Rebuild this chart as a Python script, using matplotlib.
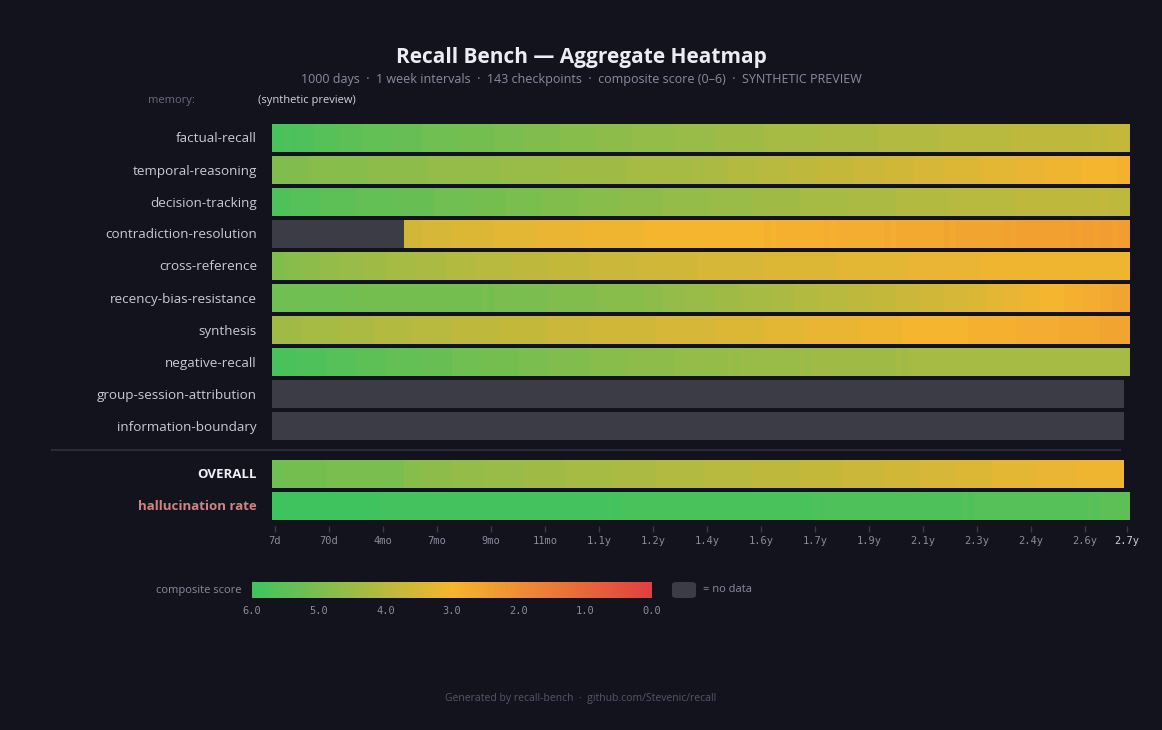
import numpy as np
import matplotlib
matplotlib.use("Agg")
import matplotlib.pyplot as plt
from matplotlib.colors import LinearSegmentedColormap, Normalize
from matplotlib.cm import ScalarMappable
from matplotlib.patches import FancyBboxPatch

plt.rcParams["font.family"] = ["Open Sans", "DejaVu Sans"]

BG = "#13131e"
NODATA = "#3c3c47"
nan = np.nan

CATEGORIES = [
    "factual-recall", "temporal-reasoning", "decision-tracking",
    "contradiction-resolution", "cross-reference", "recency-bias-resistance",
    "synthesis", "negative-recall", "group-session-attribution",
    "information-boundary",
]

SCORES = {
    "factual-recall": [
        5.8, 5.8, 5.7, 5.8, 5.7, 5.7, 5.7, 5.6, 5.6, 5.6, 5.6, 5.5,
        5.5, 5.5, 5.5, 5.4, 5.4, 5.4, 5.4, 5.4, 5.3, 5.3, 5.3, 5.3,
        5.3, 5.2, 5.2, 5.2, 5.2, 5.2, 5.2, 5.1, 5.1, 5.1, 5.1, 5.1,
        5.1, 5.0, 5.0, 5.0, 5.0, 5.0, 4.9, 4.9, 4.9, 4.9, 4.9, 4.9,
        4.8, 4.8, 4.8, 4.8, 4.8, 4.8, 4.7, 4.7, 4.7, 4.7, 4.7, 4.7,
        4.6, 4.6, 4.6, 4.6, 4.6, 4.6, 4.6, 4.5, 4.5, 4.5, 4.5, 4.5,
        4.5, 4.5, 4.4, 4.4, 4.4, 4.4, 4.4, 4.4, 4.4, 4.4, 4.3, 4.3,
        4.3, 4.3, 4.3, 4.3, 4.3, 4.3, 4.3, 4.2, 4.2, 4.2, 4.2, 4.2,
        4.2, 4.2, 4.2, 4.2, 4.2, 4.1, 4.1, 4.1, 4.1, 4.1, 4.1, 4.1,
        4.1, 4.1, 4.1, 4.0, 4.0, 4.0, 4.0, 4.0, 4.0, 4.0, 4.0, 4.0,
        4.0, 4.0, 4.0, 3.9, 3.9, 3.9, 3.9, 3.9, 3.9, 3.9, 3.9, 3.9,
        3.9, 3.9, 3.9, 3.9, 3.9, 3.8, 3.9, 3.8, 3.8, 3.8, 3.8,
    ],
    "temporal-reasoning": [
        4.9, 4.9, 4.9, 4.9, 4.9, 4.9, 4.8, 4.8, 4.8, 4.8, 4.8, 4.8,
        4.8, 4.8, 4.8, 4.8, 4.7, 4.7, 4.7, 4.7, 4.7, 4.7, 4.7, 4.7,
        4.7, 4.7, 4.6, 4.6, 4.6, 4.6, 4.6, 4.6, 4.6, 4.6, 4.6, 4.6,
        4.6, 4.6, 4.5, 4.5, 4.5, 4.5, 4.5, 4.5, 4.5, 4.5, 4.5, 4.5,
        4.4, 4.4, 4.4, 4.4, 4.4, 4.4, 4.4, 4.4, 4.4, 4.4, 4.4, 4.3,
        4.3, 4.3, 4.3, 4.3, 4.3, 4.3, 4.3, 4.3, 4.3, 4.3, 4.2, 4.3,
        4.2, 4.2, 4.2, 4.2, 4.1, 4.1, 4.1, 4.1, 4.1, 4.0, 4.0, 4.0,
        4.0, 4.0, 3.9, 3.9, 3.9, 3.9, 3.9, 3.8, 3.8, 3.8, 3.8, 3.8,
        3.8, 3.7, 3.7, 3.7, 3.7, 3.7, 3.6, 3.6, 3.6, 3.6, 3.6, 3.5,
        3.5, 3.5, 3.5, 3.5, 3.4, 3.4, 3.4, 3.4, 3.4, 3.4, 3.3, 3.3,
        3.3, 3.3, 3.3, 3.3, 3.2, 3.2, 3.2, 3.2, 3.2, 3.1, 3.1, 3.1,
        3.1, 3.1, 3.1, 3.0, 3.0, 3.0, 3.0, 3.0, 3.0, 2.9, 2.9,
    ],
    "decision-tracking": [
        5.7, 5.7, 5.7, 5.6, 5.6, 5.6, 5.6, 5.6, 5.5, 5.5, 5.5, 5.5,
        5.5, 5.5, 5.4, 5.4, 5.4, 5.4, 5.4, 5.4, 5.4, 5.3, 5.3, 5.3,
        5.3, 5.3, 5.3, 5.2, 5.2, 5.2, 5.2, 5.2, 5.2, 5.1, 5.1, 5.1,
        5.1, 5.1, 5.1, 5.0, 5.0, 5.0, 5.0, 5.0, 5.0, 4.9, 4.9, 4.9,
        4.9, 4.9, 4.9, 4.8, 4.8, 4.8, 4.8, 4.8, 4.8, 4.8, 4.7, 4.7,
        4.7, 4.7, 4.7, 4.7, 4.7, 4.6, 4.6, 4.6, 4.6, 4.6, 4.6, 4.6,
        4.6, 4.5, 4.5, 4.5, 4.5, 4.5, 4.5, 4.5, 4.4, 4.4, 4.4, 4.4,
        4.4, 4.4, 4.4, 4.4, 4.3, 4.3, 4.3, 4.3, 4.3, 4.3, 4.3, 4.3,
        4.2, 4.2, 4.2, 4.2, 4.2, 4.2, 4.2, 4.2, 4.1, 4.1, 4.1, 4.1,
        4.1, 4.1, 4.1, 4.1, 4.1, 4.0, 4.0, 4.0, 4.0, 4.0, 4.0, 4.0,
        4.0, 4.0, 4.0, 4.0, 3.9, 3.9, 3.9, 3.9, 3.9, 3.9, 3.9, 3.9,
        3.9, 3.9, 3.9, 3.9, 3.9, 3.9, 3.8, 3.9, 3.9, 3.9, 3.9,
    ],
    "contradiction-resolution": [
        nan, nan, nan, nan, nan, nan, nan, nan, nan, nan, nan, nan,
        nan, nan, nan, nan, nan, nan, nan, nan, nan, nan, 3.6, 3.6,
        3.6, 3.5, 3.5, 3.5, 3.5, 3.5, 3.4, 3.4, 3.4, 3.4, 3.4, 3.4,
        3.4, 3.3, 3.3, 3.3, 3.3, 3.3, 3.3, 3.3, 3.2, 3.2, 3.2, 3.2,
        3.2, 3.2, 3.2, 3.2, 3.1, 3.1, 3.1, 3.1, 3.1, 3.1, 3.1, 3.1,
        3.1, 3.1, 3.0, 3.0, 3.0, 3.0, 3.0, 3.0, 3.0, 3.0, 3.0, 3.0,
        3.0, 3.0, 3.0, 3.0, 3.0, 3.0, 3.0, 3.0, 3.0, 3.0, 2.9, 3.0,
        2.9, 2.9, 2.9, 2.9, 2.9, 2.9, 2.9, 2.9, 2.8, 2.9, 2.8, 2.8,
        2.8, 2.8, 2.8, 2.8, 2.8, 2.8, 2.7, 2.8, 2.7, 2.7, 2.7, 2.7,
        2.7, 2.7, 2.7, 2.7, 2.6, 2.7, 2.6, 2.6, 2.6, 2.6, 2.6, 2.6,
        2.6, 2.6, 2.5, 2.6, 2.5, 2.5, 2.5, 2.5, 2.5, 2.5, 2.5, 2.5,
        2.5, 2.4, 2.5, 2.4, 2.4, 2.5, 2.4, 2.4, 2.5, 2.4, 2.4,
    ],
    "cross-reference": [
        4.9, 4.9, 4.8, 4.8, 4.8, 4.7, 4.7, 4.7, 4.6, 4.6, 4.6, 4.5,
        4.5, 4.5, 4.5, 4.4, 4.4, 4.4, 4.4, 4.3, 4.3, 4.3, 4.3, 4.3,
        4.2, 4.2, 4.2, 4.2, 4.2, 4.1, 4.1, 4.1, 4.1, 4.1, 4.0, 4.0,
        4.0, 4.0, 4.0, 4.0, 3.9, 3.9, 3.9, 3.9, 3.9, 3.9, 3.8, 3.8,
        3.8, 3.8, 3.8, 3.8, 3.8, 3.7, 3.7, 3.7, 3.7, 3.7, 3.7, 3.7,
        3.7, 3.6, 3.6, 3.6, 3.6, 3.6, 3.6, 3.6, 3.6, 3.6, 3.6, 3.5,
        3.5, 3.5, 3.5, 3.5, 3.5, 3.5, 3.5, 3.5, 3.5, 3.5, 3.4, 3.4,
        3.4, 3.4, 3.4, 3.4, 3.4, 3.4, 3.4, 3.4, 3.4, 3.4, 3.3, 3.3,
        3.3, 3.3, 3.3, 3.3, 3.3, 3.3, 3.3, 3.3, 3.3, 3.3, 3.2, 3.2,
        3.2, 3.2, 3.2, 3.2, 3.2, 3.2, 3.2, 3.2, 3.2, 3.2, 3.1, 3.1,
        3.1, 3.1, 3.1, 3.1, 3.1, 3.1, 3.1, 3.1, 3.1, 3.1, 3.1, 3.1,
        3.1, 3.1, 3.1, 3.1, 3.1, 3.1, 3.1, 3.1, 3.1, 3.1, 3.1,
    ],
    "recency-bias-resistance": [
        5.2, 5.2, 5.2, 5.2, 5.2, 5.2, 5.2, 5.2, 5.2, 5.2, 5.2, 5.2,
        5.1, 5.2, 5.1, 5.1, 5.1, 5.1, 5.1, 5.1, 5.1, 5.1, 5.1, 5.1,
        5.1, 5.1, 5.1, 5.1, 5.1, 5.1, 5.1, 5.1, 5.1, 5.1, 5.1, 5.0,
        5.1, 5.0, 5.0, 5.0, 5.0, 5.0, 5.0, 5.0, 5.0, 5.0, 4.9, 4.9,
        4.9, 4.9, 4.9, 4.9, 4.9, 4.9, 4.8, 4.8, 4.8, 4.8, 4.8, 4.8,
        4.8, 4.8, 4.7, 4.7, 4.7, 4.6, 4.6, 4.6, 4.6, 4.5, 4.5, 4.5,
        4.5, 4.5, 4.4, 4.4, 4.4, 4.4, 4.3, 4.3, 4.3, 4.3, 4.3, 4.2,
        4.2, 4.2, 4.2, 4.1, 4.1, 4.1, 4.1, 4.0, 4.0, 4.0, 4.0, 4.0,
        3.9, 3.9, 3.9, 3.9, 3.8, 3.8, 3.8, 3.8, 3.7, 3.7, 3.7, 3.7,
        3.6, 3.6, 3.6, 3.6, 3.5, 3.5, 3.5, 3.5, 3.4, 3.4, 3.4, 3.3,
        3.3, 3.3, 3.2, 3.2, 3.2, 3.1, 3.1, 3.1, 3.0, 3.0, 3.0, 3.0,
        2.9, 2.9, 2.9, 2.8, 2.8, 2.8, 2.7, 2.7, 2.6, 2.6, 2.6,
    ],
    "synthesis": [
        4.4, 4.4, 4.4, 4.4, 4.4, 4.3, 4.3, 4.3, 4.3, 4.3, 4.3, 4.2,
        4.2, 4.2, 4.2, 4.2, 4.2, 4.1, 4.1, 4.1, 4.1, 4.1, 4.1, 4.0,
        4.0, 4.0, 4.0, 4.0, 4.0, 4.0, 3.9, 3.9, 3.9, 3.9, 3.9, 3.9,
        3.9, 3.9, 3.8, 3.8, 3.8, 3.8, 3.8, 3.8, 3.8, 3.8, 3.7, 3.7,
        3.7, 3.7, 3.7, 3.7, 3.7, 3.6, 3.6, 3.6, 3.6, 3.6, 3.6, 3.6,
        3.6, 3.6, 3.6, 3.6, 3.5, 3.5, 3.5, 3.5, 3.5, 3.5, 3.5, 3.5,
        3.5, 3.5, 3.4, 3.4, 3.4, 3.4, 3.4, 3.4, 3.4, 3.4, 3.3, 3.3,
        3.3, 3.3, 3.3, 3.3, 3.3, 3.2, 3.2, 3.2, 3.2, 3.2, 3.2, 3.2,
        3.2, 3.2, 3.1, 3.1, 3.1, 3.1, 3.1, 3.1, 3.1, 3.0, 3.0, 3.0,
        3.0, 3.0, 3.0, 3.0, 3.0, 3.0, 3.0, 3.0, 2.9, 2.9, 2.9, 2.9,
        2.9, 2.9, 2.9, 2.9, 2.8, 2.8, 2.8, 2.8, 2.8, 2.8, 2.8, 2.7,
        2.7, 2.7, 2.7, 2.7, 2.7, 2.7, 2.6, 2.6, 2.6, 2.6, 2.6,
    ],
    "negative-recall": [
        5.8, 5.8, 5.8, 5.8, 5.7, 5.7, 5.7, 5.7, 5.7, 5.6, 5.6, 5.6,
        5.6, 5.6, 5.5, 5.5, 5.5, 5.5, 5.5, 5.4, 5.4, 5.4, 5.4, 5.4,
        5.4, 5.3, 5.3, 5.3, 5.3, 5.3, 5.2, 5.2, 5.2, 5.2, 5.2, 5.1,
        5.1, 5.1, 5.1, 5.1, 5.1, 5.0, 5.0, 5.0, 5.0, 5.0, 4.9, 4.9,
        4.9, 4.9, 4.9, 4.9, 4.9, 4.8, 4.8, 4.8, 4.8, 4.8, 4.8, 4.7,
        4.7, 4.7, 4.7, 4.7, 4.7, 4.7, 4.7, 4.6, 4.6, 4.6, 4.6, 4.6,
        4.6, 4.6, 4.6, 4.6, 4.5, 4.6, 4.5, 4.5, 4.5, 4.5, 4.5, 4.5,
        4.5, 4.5, 4.5, 4.5, 4.4, 4.5, 4.4, 4.4, 4.4, 4.4, 4.4, 4.4,
        4.4, 4.4, 4.4, 4.4, 4.4, 4.4, 4.4, 4.4, 4.3, 4.4, 4.3, 4.3,
        4.3, 4.3, 4.3, 4.3, 4.3, 4.3, 4.3, 4.3, 4.3, 4.3, 4.3, 4.3,
        4.3, 4.3, 4.3, 4.3, 4.3, 4.3, 4.3, 4.3, 4.3, 4.3, 4.3, 4.3,
        4.3, 4.3, 4.3, 4.3, 4.3, 4.3, 4.3, 4.3, 4.3, 4.3, 4.3,
    ],
    # no data at any of the 142 checkpoints
    "group-session-attribution": [nan] * 142,
    "information-boundary": [nan] * 142,
}

OVERALL = [
    5.2, 5.2, 5.1, 5.1, 5.1, 5.1, 5.1, 5.1, 5.1, 5.0, 5.0, 5.0,
    5.0, 5.0, 5.0, 5.0, 5.0, 5.0, 5.0, 5.0, 5.0, 5.0, 4.8, 4.8,
    4.8, 4.7, 4.7, 4.7, 4.7, 4.7, 4.6, 4.6, 4.6, 4.6, 4.6, 4.5,
    4.5, 4.5, 4.5, 4.5, 4.5, 4.5, 4.4, 4.4, 4.4, 4.4, 4.4, 4.4,
    4.4, 4.3, 4.3, 4.3, 4.3, 4.3, 4.3, 4.3, 4.3, 4.2, 4.2, 4.2,
    4.2, 4.2, 4.2, 4.2, 4.1, 4.1, 4.1, 4.1, 4.1, 4.1, 4.1, 4.1,
    4.0, 4.0, 4.0, 4.0, 4.0, 4.0, 4.0, 4.0, 3.9, 3.9, 3.9, 3.9,
    3.9, 3.9, 3.9, 3.9, 3.8, 3.8, 3.8, 3.8, 3.8, 3.8, 3.8, 3.7,
    3.7, 3.7, 3.7, 3.7, 3.7, 3.7, 3.6, 3.6, 3.6, 3.6, 3.6, 3.6,
    3.5, 3.5, 3.5, 3.5, 3.5, 3.5, 3.4, 3.4, 3.4, 3.4, 3.4, 3.4,
    3.3, 3.3, 3.3, 3.3, 3.3, 3.3, 3.3, 3.2, 3.2, 3.2, 3.2, 3.2,
    3.2, 3.2, 3.1, 3.1, 3.1, 3.1, 3.1, 3.1, 3.1, 3.1,
]

HALLUCINATION = [
    6.0, 6.0, 6.0, 6.0, 6.0, 6.0, 6.0, 6.0, 6.0, 6.0, 6.0, 6.0,
    6.0, 6.0, 6.0, 6.0, 6.0, 6.0, 5.9, 5.9, 5.9, 5.9, 5.9, 5.9,
    5.9, 5.9, 5.9, 5.9, 5.9, 5.9, 5.9, 5.9, 5.9, 5.9, 5.9, 5.9,
    5.9, 5.9, 5.9, 5.9, 5.9, 5.9, 5.9, 5.9, 5.9, 5.9, 5.9, 5.9,
    5.9, 5.9, 5.9, 5.9, 5.9, 5.9, 5.9, 5.9, 5.8, 5.9, 5.8, 5.8,
    5.8, 5.8, 5.8, 5.8, 5.8, 5.8, 5.8, 5.8, 5.8, 5.8, 5.8, 5.8,
    5.8, 5.8, 5.8, 5.8, 5.8, 5.8, 5.8, 5.8, 5.8, 5.8, 5.8, 5.8,
    5.8, 5.8, 5.8, 5.8, 5.8, 5.8, 5.7, 5.8, 5.7, 5.7, 5.7, 5.7,
    5.7, 5.7, 5.7, 5.7, 5.7, 5.7, 5.7, 5.7, 5.7, 5.7, 5.7, 5.7,
    5.7, 5.7, 5.7, 5.7, 5.7, 5.7, 5.7, 5.6, 5.7, 5.6, 5.6, 5.6,
    5.6, 5.6, 5.6, 5.6, 5.6, 5.6, 5.6, 5.6, 5.6, 5.6, 5.6, 5.6,
    5.6, 5.6, 5.6, 5.6, 5.5, 5.6, 5.5, 5.5, 5.5, 5.5, 5.5,
]

TICK_IDX = [0, 9, 18, 27, 36, 45, 54, 63, 72, 81, 90, 99, 108, 117, 126, 135, 142]
TICK_LABELS = ["7d", "70d", "4mo", "7mo", "9mo", "11mo", "1.1y", "1.2y", "1.4y",
               "1.6y", "1.7y", "1.9y", "2.1y", "2.3y", "2.4y", "2.6y", "2.7y"]
LEGEND_TICKS = [6.0, 5.0, 4.0, 3.0, 2.0, 1.0, 0.0]
N_CHECKPOINTS = 143

W, H = 1162, 730


def fx(px):
    return px / W


def fy(py):
    return 1 - py / H


cmap = LinearSegmentedColormap.from_list(
    "score", [(0.0, "#e0403f"), (0.5, "#f6b52f"), (1.0, "#3ec35f")])
cmap.set_bad(NODATA)
norm = Normalize(0, 6)

fig = plt.figure(figsize=(W / 100, H / 100), dpi=100, facecolor=BG)

# heatmap axes: x in checkpoints, y in pixel rows
ax = fig.add_axes([fx(272), fy(526), fx(1130) - fx(272), fy(110) - fy(526)])
ax.set_facecolor(BG)
for s in ax.spines.values():
    s.set_visible(False)
ax.set_yticks([])

rows = [(c, SCORES[c], 138 + 32 * i) for i, c in enumerate(CATEGORIES)]
rows += [("OVERALL", OVERALL, 474), ("hallucination rate", HALLUCINATION, 506)]

for name, vals, yc in rows:
    arr = np.ma.masked_invalid(np.array(vals, dtype=float))[np.newaxis, :]
    ax.imshow(arr, cmap=cmap, norm=norm, interpolation="nearest", aspect="auto",
              extent=(0, len(vals), yc + 14, yc - 14))
    if name == "OVERALL":
        fig.text(fx(257), fy(yc + 1), name, ha="right", va="center", fontsize=9.5,
                 fontweight="bold", color="#f0f0f8")
    elif name == "hallucination rate":
        fig.text(fx(257), fy(yc + 1), name, ha="right", va="center", fontsize=9.5,
                 fontweight="bold", color="#cf8482")
    else:
        fig.text(fx(257), fy(yc + 1), name, ha="right", va="center", fontsize=9.7,
                 color="#c9c9d6")

ax.set_xlim(0, N_CHECKPOINTS)
ax.set_ylim(526, 110)

ax.set_xticks([i + 0.5 for i in TICK_IDX])
ax.set_xticklabels(TICK_LABELS, family="DejaVu Sans Mono", fontsize=7.5)
ax.tick_params(axis="x", length=4, width=1, color="#3a3a4a", pad=3, labelcolor="#8b8b9c")
ax.get_xticklabels()[-1].set_color("#d0d0dc")

# separator between categories and summary rows
fig.add_artist(plt.Line2D([fx(52), fx(1120)], [fy(450), fy(450)], color="#2a2a38", lw=1.5))

# titles
fig.text(0.5, fy(57), "Recall Bench — Aggregate Heatmap", ha="center", va="center",
         fontsize=15, fontweight="bold", color="#ececf4")
fig.text(0.5, fy(80), "1000 days  ·  1 week intervals  ·  143 checkpoints  ·  "
         "composite score (0–6)  ·  SYNTHETIC PREVIEW",
         ha="center", va="center", fontsize=9, color="#8b8ba0")
fig.text(fx(148), fy(100), "memory:", ha="left", va="center", fontsize=8, color="#6a6a86")
fig.text(fx(258), fy(100), "(synthetic preview)", ha="left", va="center", fontsize=8,
         color="#d4d4de")

# legend colour bar
cax = fig.add_axes([fx(252), fy(598), fx(652) - fx(252), fy(582) - fy(598)])
cb = fig.colorbar(ScalarMappable(norm=norm, cmap=cmap), cax=cax, orientation="horizontal")
cb.outline.set_visible(False)
cax.set_xlim(6, 0)
cb.set_ticks(LEGEND_TICKS)
cb.set_ticklabels([f"{t:.1f}" for t in LEGEND_TICKS])
cax.tick_params(length=0, pad=6, labelsize=7.5, labelcolor="#8b8b9c")
for t in cax.get_xticklabels():
    t.set_family("DejaVu Sans Mono")
fig.text(fx(242), fy(590), "composite score", ha="right", va="center", fontsize=8,
         color="#8b8ba0")
fig.add_artist(FancyBboxPatch((fx(672), fy(598)), fx(24), fy(582) - fy(598),
                              boxstyle="round,pad=0,rounding_size=0.004",
                              transform=fig.transFigure, facecolor=NODATA, edgecolor="none"))
fig.text(fx(703), fy(590), "= no data", ha="left", va="center", fontsize=8, color="#8b8ba0")

fig.text(0.5, fy(698), "Generated by recall-bench  ·  github.com/Stevenic/recall",
         ha="center", va="center", fontsize=7.5, color="#55556c")

fig.savefig("out.png", dpi=100, facecolor=BG)
